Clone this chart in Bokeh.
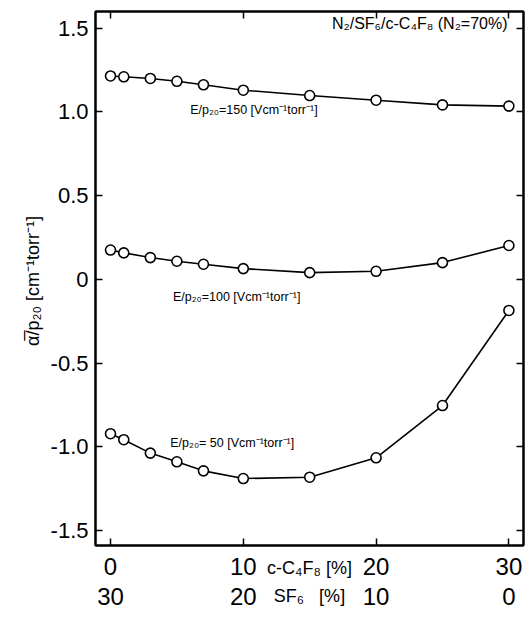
from bokeh.plotting import figure
from bokeh.models import Range1d, LinearAxis, FixedTicker, Label, CustomLabelingPolicy
from bokeh.embed import file_html
from bokeh.resources import INLINE

# ---- data ----
c4f8_pct = [0, 1, 3, 5, 7, 10, 15, 20, 25, 30]
alpha_E150 = [1.215, 1.21, 1.20, 1.183, 1.162, 1.13, 1.098, 1.07, 1.042, 1.035]
alpha_E100 = [0.175, 0.158, 0.13, 0.108, 0.09, 0.064, 0.04, 0.048, 0.10, 0.202]
alpha_E50 = [-0.922, -0.958, -1.038, -1.09, -1.144, -1.19, -1.182, -1.066, -0.754, -0.186]

x_ticks = [0, 10, 20, 30]
x_labels_c4f8 = ["0", "10", "20", "30"]
x_labels_sf6 = ["30", "20", "10", "0"]
y_ticks = [-1.5, -1.0, -0.5, 0, 0.5, 1.0, 1.5]
y_labels = ["-1.5", "-1.0", "-0.5", "0", "0.5", "1.0", "1.5"]

FONT = "Liberation Sans"

p = figure(width=528, height=617, output_backend="svg", toolbar_location=None,
           x_range=Range1d(-1.13, 31.1), y_range=Range1d(-1.59, 1.6),
           min_border_left=95, min_border_right=4, min_border_top=11, min_border_bottom=72)
p.background_fill_color = "white"
p.border_fill_color = "white"
p.grid.visible = False
p.outline_line_color = "black"
p.outline_line_width = 2

# left axis
ya = p.yaxis[0]
ya.ticker = FixedTicker(ticks=y_ticks)
ya.major_label_overrides = {t: l for t, l in zip(y_ticks, y_labels)}
ya.major_tick_in = 7
ya.major_tick_out = 0
ya.minor_tick_line_color = None
ya.axis_line_width = 2
ya.axis_line_color = "black"
ya.major_tick_line_width = 1.5
ya.major_label_text_font = FONT
ya.major_label_text_font_size = "22px"
ya.major_label_text_color = "black"
ya.major_label_standoff = 7
ya.axis_label = "α̅/p₂₀  [cm⁻¹torr⁻¹]"
ya.axis_label_text_font = FONT
ya.axis_label_text_font_size = "18px"
ya.axis_label_text_font_style = "normal"
ya.axis_label_text_color = "black"
ya.axis_label_standoff = 5

# bottom axis (row 1: c-C4F8), unit label pulled up into the tick-label row
xa = p.xaxis[0]
xa.ticker = FixedTicker(ticks=x_ticks)
xa.major_label_overrides = {t: l for t, l in zip(x_ticks, x_labels_c4f8)}
xa.major_tick_in = 7
xa.major_tick_out = 0
xa.minor_tick_line_color = None
xa.axis_line_width = 2
xa.axis_line_color = "black"
xa.major_tick_line_width = 1.5
xa.major_label_text_font = FONT
xa.major_label_text_font_size = "24px"
xa.major_label_text_color = "black"
xa.major_label_standoff = 12
xa.axis_label = "c-C₄F₈ [%]"
xa.axis_label_text_font = FONT
xa.axis_label_text_font_size = "18px"
xa.axis_label_text_font_style = "normal"
xa.axis_label_text_color = "black"
xa.axis_label_standoff = -20

# bottom axis row 2: SF6
xb = LinearAxis(ticker=FixedTicker(ticks=x_ticks),
                major_label_overrides={t: l for t, l in zip(x_ticks, x_labels_sf6)},
                axis_line_color=None, major_tick_line_color=None, minor_tick_line_color=None,
                major_tick_in=0, major_tick_out=0, major_label_standoff=7,
                major_label_text_font=FONT, major_label_text_font_size="24px",
                major_label_text_color="black",
                axis_label="SF₆\u00a0\u00a0\u00a0[%]", axis_label_text_font=FONT,
                axis_label_text_font_size="18px", axis_label_text_font_style="normal",
                axis_label_text_color="black", axis_label_standoff=-22)
p.add_layout(xb, "below")

# right and top axes: inward ticks only, no labels drawn
no_labels = CustomLabelingPolicy(code="return new Set()")
yr = LinearAxis(ticker=FixedTicker(ticks=y_ticks), major_label_policy=no_labels,
                major_label_text_font_size="1px",
                major_tick_in=7, major_tick_out=0, minor_tick_line_color=None,
                axis_line_width=2, major_tick_line_width=1.5, major_label_standoff=0)
p.add_layout(yr, "right")
xt = LinearAxis(ticker=FixedTicker(ticks=x_ticks), major_label_policy=no_labels,
                major_label_text_font_size="1px",
                major_tick_in=7, major_tick_out=0, minor_tick_line_color=None,
                axis_line_width=2, major_tick_line_width=1.5, major_label_standoff=0)
p.add_layout(xt, "above")

# curves and markers
for ys in (alpha_E150, alpha_E100, alpha_E50):
    p.line(c4f8_pct, ys, line_color="black", line_width=1.6)
    p.scatter(c4f8_pct, ys, marker="circle", size=10, fill_color="white",
              line_color="black", line_width=1.6)

# annotations
def lab(x, y, text, size, align="left"):
    p.add_layout(Label(x=x, y=y, text=text, text_font=FONT, text_font_size=size,
                       text_align=align, text_baseline="middle", text_color="black"))

lab(29.9, 1.53, "N₂/SF₆/c-C₄F₈ (N₂=70%)", "16px", "right")
lab(6.0, 1.01, "E/p₂₀=150 [Vcm⁻¹torr⁻¹]", "12.5px")
lab(4.7, -0.108, "E/p₂₀=100 [Vcm⁻¹torr⁻¹]", "12.5px")
lab(4.5, -0.976, "E/p₂₀= 50 [Vcm⁻¹torr⁻¹]", "12.5px")

open("out.html", "w").write(file_html(p, INLINE))
